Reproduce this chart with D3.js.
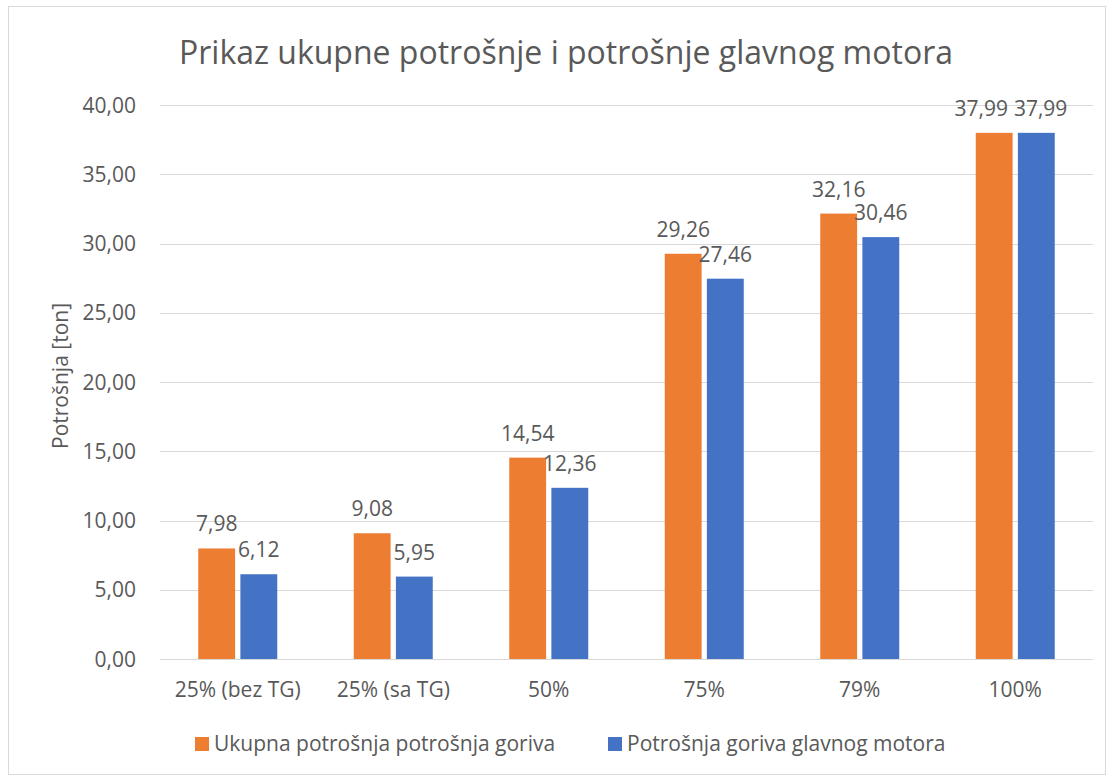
<!DOCTYPE html>
<meta charset="utf-8">
<head>
<style>
body { margin: 0; background: #fff; }
svg text { font-family: "Open Sans", "Noto Sans", sans-serif; fill: #595959; }
.grid line { stroke: #d9d9d9; stroke-width: 1; }
</style>
</head>
<body>
<svg width="1113" height="778"></svg>
<script src="https://d3js.org/d3.v7.min.js"></script>
<script>

var categories = ["25% (bez TG)", "25% (sa TG)", "50%", "75%", "79%", "100%"];
var seriesNames = ["Ukupna potrošnja potrošnja goriva", "Potrošnja goriva glavnog motora"];
var ukupna = [7.98, 9.08, 14.54, 29.26, 32.16, 37.99];
var glavni = [6.12, 5.95, 12.36, 27.46, 30.46, 37.99];
var yTicks = [0, 5, 10, 15, 20, 25, 30, 35, 40];
var colors = ["#ed7d31", "#4472c4"];

var svg = d3.select("svg");

svg.append("rect")
    .attr("x", 8.5).attr("y", 6.5)
    .attr("width", 1097).attr("height", 768)
    .attr("fill", "#fff").attr("stroke", "#d9d9d9");

var plotL = 160, plotR = 1093, plotT = 105, plotB = 659;

var x = d3.scaleBand().domain(categories).range([plotL, plotR]);
var sub = d3.scaleBand().domain([0, 1]).range([0, 79]).paddingInner(0.125);
var y = d3.scaleLinear().domain([0, 40]).range([plotB, plotT]);

var fmt = function(v) { return d3.format(".2f")(v).replace(".", ","); };
var barX = function(i, s) { return x(categories[i]) + (x.bandwidth() - 79) / 2 + sub(s); };

// gridlines
var grid = svg.append("g").attr("class", "grid");
grid.selectAll("line").data(yTicks).enter().append("line")
    .attr("x1", plotL).attr("x2", plotR)
    .attr("y1", function(d) { return Math.round(y(d)) + 0.5; })
    .attr("y2", function(d) { return Math.round(y(d)) + 0.5; });

// y labels
svg.append("g").selectAll("text").data(yTicks).enter().append("text")
    .attr("x", 136).attr("y", function(d) { return y(d); })
    .attr("dy", "0.36em")
    .attr("text-anchor", "end")
    .style("font-size", "21px")
    .text(fmt);

// bars
var series = [ukupna, glavni];
var labels = [];
series.forEach(function(vals, s) {
  var g = svg.append("g");
  g.selectAll("rect").data(vals).enter().append("rect")
      .attr("x", function(d, i) { return barX(i, s); })
      .attr("y", function(d) { return y(d); })
      .attr("width", sub.bandwidth())
      .attr("height", function(d) { return plotB - y(d); })
      .attr("fill", colors[s]);
  labels[s] = g.selectAll("text").data(vals).enter().append("text")
      .attr("x", function(d, i) { return barX(i, s) + sub.bandwidth() / 2; })
      .attr("y", function(d) { return y(d) - 17; })
      .attr("text-anchor", "middle")
      .style("font-size", "21px")
      .text(fmt);
});

// push apart labels that collide (same height)
labels[0].each(function(d, i) {
  var a = this, b = labels[1].nodes()[i];
  if (Math.abs(ukupna[i] - glavni[i]) < 1.5) {
    var wa = a.getComputedTextLength(), wb = b.getComputedTextLength();
    var ax = +a.getAttribute("x"), bx = +b.getAttribute("x");
    var overlap = (ax + wa / 2) - (bx - wb / 2) + 6;
    if (overlap > 0) {
      a.setAttribute("x", ax - overlap * 0.75);
      b.setAttribute("x", bx + overlap * 0.25);
    }
  }
});

// x labels
svg.append("g").selectAll("text").data(categories).enter().append("text")
    .attr("x", function(d) { return x(d) + x.bandwidth() / 2; })
    .attr("y", 697)
    .attr("text-anchor", "middle")
    .style("font-size", "21px")
    .text(function(d) { return d; });

// axis title
svg.append("text")
    .attr("transform", "translate(68,376) rotate(-90)")
    .attr("text-anchor", "middle")
    .style("font-size", "21px")
    .text("Potrošnja [ton]");

// title
svg.append("text")
    .attr("x", 566).attr("y", 64)
    .attr("text-anchor", "middle")
    .style("font-size", "32px")
    .text("Prikaz ukupne potrošnje i potrošnje glavnog motora");

// legend
var legendX = [195, 608];
seriesNames.forEach(function(name, s) {
  svg.append("rect")
      .attr("x", legendX[s]).attr("y", 737)
      .attr("width", 14).attr("height", 14)
      .attr("fill", colors[s]);
  svg.append("text")
      .attr("x", legendX[s] + 19).attr("y", 751)
      .style("font-size", "21px")
      .text(name);
});

</script>
</body>
</html>
